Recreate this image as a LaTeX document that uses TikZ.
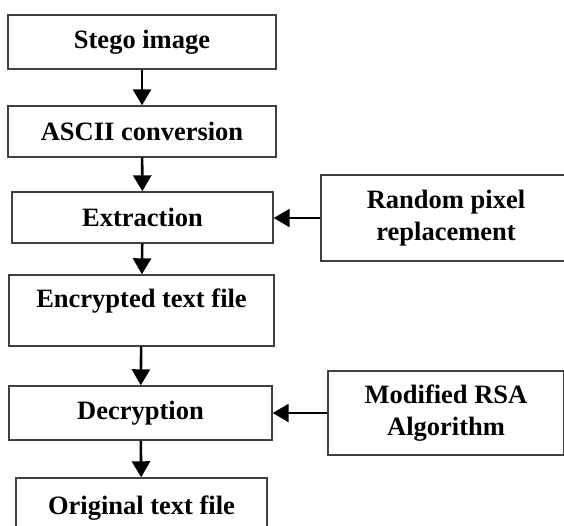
\documentclass[tikz,border=0pt]{standalone}
\usepackage{fontspec}
\setmainfont{Liberation Serif}
\usetikzlibrary{arrows.meta}
\tikzset{
  box/.style={draw=black!75,line width=1.4pt,inner sep=0pt,align=center,
    font=\fontsize{26.5}{32}\selectfont\bfseries},
  flow/.style={line width=2.6pt,-{Triangle[width=18pt,length=16pt]}}
}

\begin{document}
\begin{tikzpicture}[x=1pt,y=-1pt]
      \useasboundingbox (0,0) rectangle (564,526);
      \clip (0,0) rectangle (564,526);
      \path
      (142,42) node[box,minimum width=268,minimum height=54](stego) {Stego image}
      (142,131.5) node[box,minimum width=268,minimum height=51](ascii) {ASCII conversion}
      (142.5,217.5) node[box,minimum width=261,minimum height=51](extract) {Extraction}
      (141.5,310.5) node[box,minimum width=265,minimum height=71,text depth=24pt](enc) {Encrypted text file}
      (140.5,413) node[box,minimum width=263,minimum height=54](dec) {Decryption}
      (141.5,508) node[box,minimum width=251,minimum height=60](orig) {Original text file}
      (446,218) node[box,minimum width=250,minimum height=86](rpr) {Random pixel\\replacement}
      (446,413) node[box,minimum width=236,minimum height=84](rsa) {Modified RSA\\Algorithm}
      ;

      \draw[flow] (stego) -- (ascii);
      \draw[flow] (ascii) -- (extract);
      \draw[flow] (extract) -- (enc);
      \draw[flow] (enc) -- (dec);
      \draw[flow] (dec) -- (orig);
      \draw[flow] (rpr.west) -- (rpr.west -| extract.east);
      \draw[flow] (rsa.west) -- (rsa.west -| dec.east);
    \end{tikzpicture}
\end{document}
